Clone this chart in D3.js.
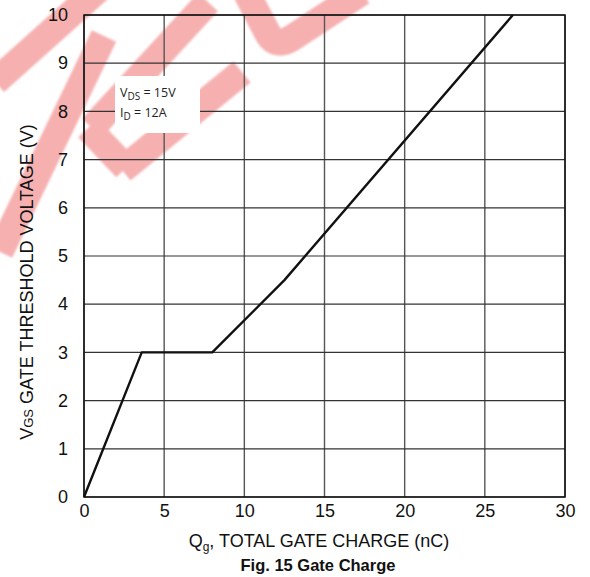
<!DOCTYPE html>
<html>
<head>
<meta charset="utf-8">
<script src="https://cdn.jsdelivr.net/npm/d3@7"></script>
<style>
  html, body { margin: 0; padding: 0; background: #fff; }
  svg { display: block; }
</style>
</head>
<body>
<svg id="chart" width="590" height="577"></svg>
<script>
// Gate charge curve: Qg (nC) vs VGS (V)
const chargeNC = [0, 3.6, 8.0, 12.5, 26.75];
const gateVolts = [0, 3.0, 3.0, 4.5, 10.0];
const xTicks = [0, 5, 10, 15, 20, 25, 30];
const yTicks = [0, 1, 2, 3, 4, 5, 6, 7, 8, 9, 10];
const conditions = [
  { main: "V", sub: "DS", rest: " = 15V" },
  { main: "I", sub: "D", rest: " = 12A" }
];

const svg = d3.select("#chart");
const plotL = 84, plotR = 565, plotT = 15, plotB = 497;

const x = d3.scaleLinear().domain([0, 30]).range([plotL, plotR]);
const y = d3.scaleLinear().domain([0, 10]).range([plotB, plotT]);

// soft pink watermark strokes behind the plot
const defs = svg.append("defs");
defs.append("filter").attr("id", "soft")
  .append("feGaussianBlur").attr("stdDeviation", 1.2);
const wm = svg.append("g")
  .attr("fill", "none")
  .attr("stroke", "#f6b0b0")
  .attr("stroke-width", 27)
  .attr("stroke-linejoin", "round")
  .attr("filter", "url(#soft)");
const wmStrokes = [
  "M100,-12 L-5,82",
  "M104,36 L0,252",
  "M208,2 L92,128",
  "M88,128 L126,168",
  "M242,72 L122,170",
  "M246,-8 L268,34 Q276,48 292,38 L362,-8"
];
wm.selectAll("path").data(wmStrokes).join("path").attr("d", d => d);

// grid
const grid = svg.append("g");
grid.selectAll("line.v").data(xTicks).join("line")
  .attr("x1", d => x(d)).attr("x2", d => x(d))
  .attr("y1", plotT).attr("y2", plotB)
  .attr("stroke", "#555").attr("stroke-width", 1.4);
grid.selectAll("line.h").data(yTicks).join("line")
  .attr("x1", plotL).attr("x2", plotR)
  .attr("y1", d => y(d)).attr("y2", d => y(d))
  .attr("stroke", "#333").attr("stroke-width", 1.2);

// frame
svg.append("rect")
  .attr("x", plotL).attr("y", plotT)
  .attr("width", plotR - plotL).attr("height", plotB - plotT)
  .attr("fill", "none").attr("stroke", "#111").attr("stroke-width", 1.5);

// axes (labels only)
const font = "Liberation Sans, Arial, sans-serif";
const xAxis = svg.append("g")
  .attr("transform", `translate(0,${plotB})`)
  .call(d3.axisBottom(x).tickValues(xTicks).tickSize(0).tickPadding(7));
const yAxis = svg.append("g")
  .attr("transform", `translate(${plotL},0)`)
  .call(d3.axisLeft(y).tickValues(yTicks).tickSize(0).tickPadding(16));
[xAxis, yAxis].forEach(a => {
  a.select(".domain").remove();
  a.selectAll("text").attr("font-family", font).attr("font-size", 18).attr("fill", "#111");
});

// condition box
const box = svg.append("g");
box.append("rect").attr("x", 115).attr("y", 76).attr("width", 85).attr("height", 57).attr("fill", "#fff");
conditions.forEach((c, i) => {
  const t = box.append("text")
    .attr("x", 120).attr("y", 97 + i * 20)
    .attr("font-family", "Open Sans, sans-serif")
    .attr("font-size", 12.5).attr("fill", "#222");
  t.append("tspan").text(c.main);
  t.append("tspan").attr("font-size", 10).attr("dy", 3).text(c.sub);
  t.append("tspan").attr("dy", -3).text(c.rest);
});

// curve
const line = d3.line().x((d, i) => x(chargeNC[i])).y(d => y(d));
svg.append("path")
  .datum(gateVolts)
  .attr("d", line)
  .attr("fill", "none")
  .attr("stroke", "#111")
  .attr("stroke-width", 2.4)
  .attr("stroke-linejoin", "round");

// axis titles
const xt = svg.append("text")
  .attr("x", 319).attr("y", 547)
  .attr("text-anchor", "middle")
  .attr("font-family", font).attr("font-size", 18).attr("fill", "#111");
xt.append("tspan").text("Q");
xt.append("tspan").attr("font-size", 12).attr("dy", 4).text("g");
xt.append("tspan").attr("dy", -4).text(", TOTAL GATE CHARGE (nC)");

svg.append("text")
  .attr("x", 318).attr("y", 571)
  .attr("text-anchor", "middle")
  .attr("font-family", font).attr("font-size", 16.5).attr("font-weight", "bold").attr("fill", "#111")
  .text("Fig. 15 Gate Charge");

const yt = svg.append("text")
  .attr("transform", "translate(33,282) rotate(-90)")
  .attr("text-anchor", "middle")
  .attr("font-family", font).attr("font-size", 18).attr("fill", "#111");
yt.append("tspan").text("V");
yt.append("tspan").attr("font-size", 13).text("GS");
yt.append("tspan").text(" GATE THRESHOLD VOLTAGE (V)");
</script>
</body>
</html>
